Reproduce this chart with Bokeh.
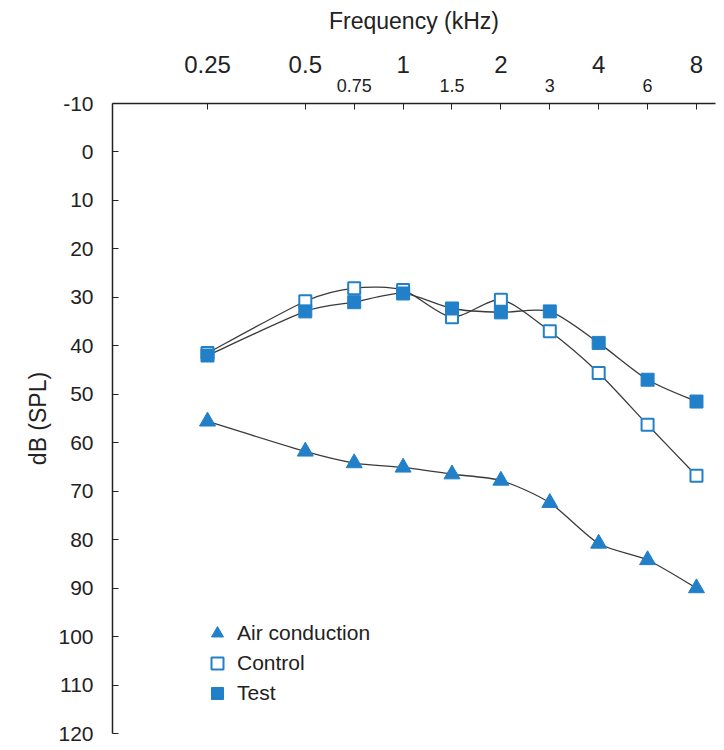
import math
from bokeh.plotting import figure
from bokeh.models import LinearAxis, FixedTicker, Legend, LegendItem, Range1d
from bokeh.embed import file_html
from bokeh.resources import INLINE

# ---------------- data ----------------
freqs_khz = [0.25, 0.5, 0.75, 1, 1.5, 2, 3, 4, 6, 8]
freq_labels = ["0.25", "0.5", "0.75", "1", "1.5", "2", "3", "4", "6", "8"]
octave_labels = ["0.25", "0.5", "1", "2", "4", "8"]
interoctave_labels = ["0.75", "1.5", "3", "6"]

air_conduction = [55.6, 61.8, 64.2, 65.1, 66.5, 67.8, 72.4, 80.8, 84.2, 90.0]
control = [41.5, 30.8, 28.1, 28.5, 34.1, 30.5, 37.0, 45.6, 56.3, 66.8]
test = [42.0, 32.9, 31.0, 29.2, 32.3, 33.1, 32.9, 39.4, 47.0, 51.5]

db_ticks = list(range(-10, 121, 10))
db_tick_labels = [str(t) for t in db_ticks]

# audiogram position: half-octave steps from 0.25 kHz
pos = [round(2 * math.log2(f / 0.25)) for f in freqs_khz]
label_pos = dict(zip(freq_labels, pos))

BLUE = "#2180c8"
LINE = "#3a3a3a"
TXT = "#222222"
FONT = "Liberation Sans"


def smooth_segments(xs, ys, k=0.13):
    n = len(xs)
    out = dict(x0=[], y0=[], x1=[], y1=[], cx0=[], cy0=[], cx1=[], cy1=[])
    for i in range(n - 1):
        a = max(i - 1, 0)
        d = min(i + 2, n - 1)
        out["x0"].append(xs[i]); out["y0"].append(ys[i])
        out["x1"].append(xs[i + 1]); out["y1"].append(ys[i + 1])
        out["cx0"].append(xs[i] + k * (xs[i + 1] - xs[a]))
        out["cy0"].append(ys[i] + k * (ys[i + 1] - ys[a]))
        out["cx1"].append(xs[i + 1] - k * (xs[d] - xs[i]))
        out["cy1"].append(ys[i + 1] - k * (ys[d] - ys[i]))
    return out


p = figure(width=720, height=748, output_backend="svg", toolbar_location=None,
           x_range=Range1d(-1.943, 10.389), y_range=Range1d(120, -10),
           x_axis_location="above", y_axis_location="left",
           min_border_left=112, min_border_right=5, min_border_top=103,
           min_border_bottom=15)
p.outline_line_color = None
p.grid.visible = False
p.background_fill_color = "white"

# ---- top axis (ticks + inter-octave labels) ----
xa = p.xaxis[0]
xa.ticker = FixedTicker(ticks=pos)
xa.major_label_overrides = {label_pos[l]: (l if l in interoctave_labels else "") for l in freq_labels}
xa.major_label_text_font = FONT
xa.major_label_text_font_size = "18px"
xa.major_label_text_color = TXT
xa.major_label_standoff = 12
xa.major_tick_in = 6
xa.major_tick_out = 0
xa.minor_tick_line_color = None
xa.axis_line_width = 1.5
xa.axis_line_color = TXT
xa.major_tick_line_color = TXT

# ---- second top axis (octave labels + title) ----
xa2 = LinearAxis(ticker=FixedTicker(ticks=[label_pos[l] for l in octave_labels]),
                 major_label_overrides={label_pos[l]: l for l in octave_labels})
xa2.axis_line_color = None
xa2.major_tick_line_color = None
xa2.minor_tick_line_color = None
xa2.major_tick_in = 0
xa2.major_tick_out = 0
xa2.major_label_text_font = FONT
xa2.major_label_text_font_size = "24px"
xa2.major_label_text_color = TXT
xa2.major_label_standoff = 3
xa2.axis_label = "Frequency (kHz)"
xa2.axis_label_text_font = FONT
xa2.axis_label_text_font_size = "23px"
xa2.axis_label_text_font_style = "normal"
xa2.axis_label_text_color = TXT
xa2.axis_label_standoff = 19
p.add_layout(xa2, "above")

# ---- left axis ----
ya = p.yaxis[0]
ya.ticker = FixedTicker(ticks=db_ticks)
ya.major_label_overrides = dict(zip(db_ticks, db_tick_labels))
ya.major_label_text_font = FONT
ya.major_label_text_font_size = "21px"
ya.major_label_text_color = TXT
ya.major_label_standoff = 19
ya.major_tick_in = 6
ya.major_tick_out = 0
ya.minor_tick_line_color = None
ya.axis_line_width = 1.5
ya.axis_line_color = TXT
ya.major_tick_line_color = TXT
ya.axis_label = "dB (SPL)"
ya.axis_label_text_font = FONT
ya.axis_label_text_font_size = "23px"
ya.axis_label_text_font_style = "normal"
ya.axis_label_text_color = TXT
ya.axis_label_standoff = 4

# ---- curves ----
for series in (air_conduction, control, test):
    seg = smooth_segments(pos, series)
    p.bezier(line_color=LINE, line_width=1.3, **seg)

r_air = p.scatter(pos, air_conduction, marker="triangle", size=16,
                  fill_color=BLUE, line_color=BLUE)
r_ctrl = p.scatter(pos, control, marker="square", size=12,
                   fill_color="white", line_color=BLUE, line_width=2)
r_test = p.scatter(pos, test, marker="square", size=13,
                   fill_color=BLUE, line_color=BLUE)

legend = Legend(items=[LegendItem(label="Air conduction", renderers=[r_air]),
                       LegendItem(label="Control", renderers=[r_ctrl]),
                       LegendItem(label="Test", renderers=[r_test])],
                location=(90, 25))
legend.border_line_color = None
legend.background_fill_alpha = 0
legend.padding = 0
legend.margin = 0
legend.spacing = 0
legend.glyph_width = 30
legend.glyph_height = 30
legend.label_height = 30
legend.label_standoff = 5
legend.label_text_font = FONT
legend.label_text_font_size = "21px"
legend.label_text_color = TXT
p.add_layout(legend, "center")

open("out.html", "w").write(file_html(p, INLINE))
